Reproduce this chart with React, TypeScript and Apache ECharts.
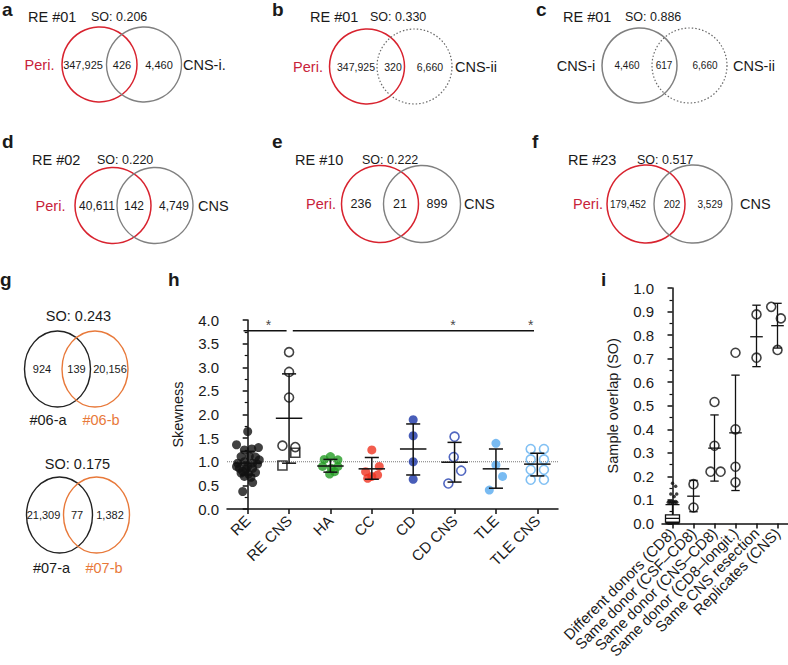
import React, { useEffect, useRef } from 'react';
import * as echarts from 'echarts';

const FONT = 'Liberation Sans, Arial, Helvetica, sans-serif';

// ---------- Venn panels a–f ----------
const vennIds = ['RE #01', 'RE #01', 'RE #01', 'RE #02', 'RE #10', 'RE #23'];
const vennSO = ['0.206', '0.330', '0.886', '0.220', '0.222', '0.517'];
const vennLeftNames = ['Peri.', 'Peri.', 'CNS-i', 'Peri.', 'Peri.', 'Peri.'];
const vennRightNames = ['CNS-i.', 'CNS-ii', 'CNS-ii', 'CNS', 'CNS', 'CNS'];
const vennLeftOnly = [347925, 347925, 4460, 40611, 236, 179452];
const vennShared = [426, 320, 617, 142, 21, 202];
const vennRightOnly = [4460, 6660, 6660, 4749, 899, 3529];

// ---------- Venn panel g ----------
const gSO = ['0.243', '0.175'];
const gLeftNames = ['#06-a', '#07-a'];
const gRightNames = ['#06-b', '#07-b'];
const gLeftOnly = [924, 21309];
const gShared = [139, 77];
const gRightOnly = [20156, 1382];

// ---------- Panel h: skewness ----------
const hCategories = ['RE', 'RE CNS', 'HA', 'CC', 'CD', 'CD CNS', 'TLE', 'TLE CNS'];
const hPositions = [0, 1, 2, 3, 4, 5, 6, 7];
// [horizontal jitter (category units), skewness]
const hRE = [[0, 1.64], [-0.27, 1.36], [-0.08, 1.25], [0.1, 1.27], [0.26, 1.3], [-0.16, 1.11], [0.04, 1.12], [0.19, 1.1], [-0.24, 0.97], [-0.08, 1.0], [0.12, 0.97], [0.24, 0.95], [-0.2, 0.86], [-0.04, 0.84], [0.12, 0.86], [-0.16, 0.76], [0.02, 0.74], [0.19, 0.77], [-0.08, 0.69], [0.08, 0.67], [0.12, 0.56], [-0.12, 0.37], [-0.27, 0.9], [0.28, 1.04], [0, 0.9], [-0.12, 0.8]];
const hRECNSCircles = [[0, 3.32], [0, 2.9], [0, 2.36], [-0.16, 1.34], [0.15, 1.31]];
const hRECNSSquares = [[-0.16, 0.92], [0.15, 1.19]];
const hHA = [[-0.15, 1.05], [0, 1.11], [0.18, 1.04], [-0.19, 0.9], [0.02, 0.86], [0.18, 0.9], [-0.02, 0.74], [0.1, 0.79]];
const hCC = [[0, 1.25], [0.18, 0.9], [-0.15, 0.79], [0, 0.69], [-0.1, 0.65], [0.14, 0.72]];
const hCD = [[0, 1.89], [0, 1.55], [0, 1.0], [0, 0.63]];
const hCDCNS = [[0, 1.53], [-0.02, 1.1], [0.16, 0.81], [-0.15, 0.54]];
const hTLE = [[0, 1.39], [0, 0.93], [0.16, 0.69], [-0.16, 0.4]];
const hTLECNS = [[-0.16, 1.27], [0.16, 1.27], [-0.16, 1.05], [0.16, 1.05], [-0.16, 0.83], [0.16, 0.83], [-0.16, 0.62], [0.16, 0.62]];
const hMean = [0.97, 1.92, 0.91, 0.85, 1.27, 0.99, 0.85, 0.95];
const hLow = [0.72, 0.97, 0.78, 0.63, 0.72, 0.57, 0.44, 0.7];
const hHigh = [1.22, 2.86, 1.05, 1.09, 1.8, 1.41, 1.27, 1.18];
const hRefLine = 1.0;
const hSigY = 3.77;
const hSigSpans = [[-0.1, 0.94], [1.09, 6.92]];
const hStarX = [0.5, 4.96, 6.84];
const hStarY = 3.9;

// ---------- Panel i: sample overlap ----------
const iCategories = ['Different donors (CD8)', 'Same donor (CSF–CD8)', 'Same donor (CNS–CD8)', 'Same donor (CD8–longit.)', 'Same CNS resection', 'Replicates (CNS)'];
const iBox = [0, 0.006, 0.022, 0.037, 0.08];
const iOutliers = [[0, 0.171], [0.15, 0.158], [-0.08, 0.125], [0.2, 0.125], [0.08, 0.115], [-0.15, 0.093], [-0.05, 0.093], [0.05, 0.093], [0.15, 0.093], [-0.1, 0.088], [0, 0.088], [0.1, 0.088], [0.2, 0.09], [-0.2, 0.09]];
const iCSF = [[0, 0.167], [0, 0.068]];
const iCNS = [[0, 0.516], [0, 0.33], [-0.19, 0.22], [0.29, 0.22]];
const iLongit = [[0, 0.725], [0, 0.4], [0, 0.241], [0, 0.175]];
const iResection = [[0, 0.888], [0, 0.704]];
const iReplicates = [[-0.3, 0.92], [0.16, 0.871], [0, 0.737]];
const iMean = [0.116, 0.32, 0.385, 0.793, 0.84];
const iLow = [0.05, 0.18, 0.14, 0.666, 0.745];
const iHigh = [0.183, 0.461, 0.63, 0.927, 0.935];

// ---------- styles / layout ----------
const RED = '#d8232f';
const PERI = '#c8233a';
const GRAY = '#808080';
const DOT = '#6a6a6a';
const ORANGE = '#e8793a';
const INK = '#1a1a1a';

const vennLayout = [
  { letter: 'a', lx: 2, by: 19, hy: 17, cy: 64.5, idX: 28, soX: 91, lcx: 99.5, rcx: 144, r: 37.5, leftX: 39.5, numX: [83, 122, 159], rightX: 183, numSize: 11, lStroke: RED, rDash: false },
  { letter: 'b', lx: 272, by: 19, hy: 17, cy: 66.5, idX: 310, soX: 370, lcx: 367, rcx: 414.5, r: 37.5, leftX: 308, numX: [356, 393, 430], rightX: 455, numSize: 10.5, lStroke: RED, rDash: true },
  { letter: 'c', lx: 536, by: 19, hy: 17, cy: 65.5, idX: 563, soX: 625, lcx: 639.5, rcx: 689.5, r: 37.5, leftX: 576, numX: [627, 664, 705], rightX: 733, numSize: 10, lStroke: GRAY, rDash: true },
  { letter: 'd', lx: 2, by: 151, hy: 160, cy: 205.5, idX: 32, soX: 97, lcx: 113, rcx: 155, r: 38, leftX: 50.5, numX: [97, 134, 174], rightX: 198, numSize: 12, lStroke: RED, rDash: false },
  { letter: 'e', lx: 272, by: 151, hy: 160, cy: 204, idX: 295, soX: 362, lcx: 380, rcx: 422, r: 38.5, leftX: 321, numX: [361, 400, 437], rightX: 464, numSize: 12.5, lStroke: RED, rDash: false },
  { letter: 'f', lx: 532, by: 151, hy: 160, cy: 204, idX: 568, soX: 637, lcx: 646, rcx: 693, r: 39, leftX: 588, numX: [628, 672, 710], rightX: 740, numSize: 10, lStroke: RED, rDash: false },
];

const gLayout = [
  { soX: 78.5, soY: 316, cy: 369, lcx: 57.5, rcx: 95, rx: 33, ry: 38, numX: [42, 76.5, 110], nameY: 420, nameX: [48, 101] },
  { soX: 77.5, soY: 464, cy: 515, lcx: 59.5, rcx: 96.5, rx: 33, ry: 38, numX: [43.5, 77, 110], nameY: 568, nameX: [51.5, 104] },
];

const fmt = (n: number) => n.toLocaleString('en-US');

function txt(x: number, y: number, text: string, size: number, o: any = {}) {
  const align = o.align || 'center';
  const va = o.va || 'middle';
  return {
    type: 'text',
    x,
    y,
    silent: true,
    style: {
      text,
      fontSize: size,
      fontFamily: FONT,
      fontWeight: o.weight || 'normal',
      fill: o.fill || INK,
      align,
      verticalAlign: va,
      textAlign: align,
      textVerticalAlign: va,
    },
  };
}

function buildGraphics() {
  const els: any[] = [];
  vennLayout.forEach((L, i) => {
    els.push(txt(L.lx, L.by, L.letter, 19, { weight: 'bold', align: 'left', va: 'bottom' }));
    els.push(txt(L.idX, L.hy, vennIds[i], 14.5, { align: 'left' }));
    els.push(txt(L.soX, L.hy, 'SO: ' + vennSO[i], 12.5, { align: 'left' }));
    els.push({ type: 'circle', silent: true, shape: { cx: L.lcx, cy: L.cy, r: L.r }, style: { fill: 'none', stroke: L.lStroke, lineWidth: 1.5 } });
    els.push({
      type: 'circle', silent: true, shape: { cx: L.rcx, cy: L.cy, r: L.r },
      style: L.rDash ? { fill: 'none', stroke: DOT, lineWidth: 1.2, lineDash: [1.5, 2] } : { fill: 'none', stroke: GRAY, lineWidth: 1.4 },
    });
    const isPeri = vennLeftNames[i] === 'Peri.';
    els.push(txt(L.leftX, L.cy, vennLeftNames[i], 14.5, { fill: isPeri ? PERI : INK }));
    els.push(txt(L.numX[0], L.cy, fmt(vennLeftOnly[i]), L.numSize));
    els.push(txt(L.numX[1], L.cy, fmt(vennShared[i]), L.numSize));
    els.push(txt(L.numX[2], L.cy, fmt(vennRightOnly[i]), L.numSize));
    els.push(txt(L.rightX, L.cy, vennRightNames[i], 14.5, { align: 'left' }));
  });
  gLayout.forEach((L, i) => {
    els.push(txt(L.soX, L.soY, 'SO: ' + gSO[i], 14.5));
    els.push({ type: 'ellipse', silent: true, shape: { cx: L.lcx, cy: L.cy, rx: L.rx, ry: L.ry }, style: { fill: 'none', stroke: '#222', lineWidth: 1.4 } });
    els.push({ type: 'ellipse', silent: true, shape: { cx: L.rcx, cy: L.cy, rx: L.rx, ry: L.ry }, style: { fill: 'none', stroke: ORANGE, lineWidth: 1.4 } });
    els.push(txt(L.numX[0], L.cy, fmt(gLeftOnly[i]), 11));
    els.push(txt(L.numX[1], L.cy, fmt(gShared[i]), 11));
    els.push(txt(L.numX[2], L.cy, fmt(gRightOnly[i]), 11));
    els.push(txt(L.nameX[0], L.nameY, gLeftNames[i], 14.5));
    els.push(txt(L.nameX[1], L.nameY, gRightNames[i], 14.5, { fill: ORANGE }));
  });
  els.push(txt(0, 289, 'g', 19, { weight: 'bold', align: 'left', va: 'bottom' }));
  els.push(txt(168, 289, 'h', 19, { weight: 'bold', align: 'left', va: 'bottom' }));
  els.push(txt(601, 289, 'i', 19, { weight: 'bold', align: 'left', va: 'bottom' }));
  return els;
}

function scatter(pts: number[][], g: number, color: string, open: boolean, xi: number, yi: number, symbol = 'circle', size = 9) {
  return {
    type: 'scatter',
    xAxisIndex: xi,
    yAxisIndex: yi,
    silent: true,
    z: 3,
    symbol,
    symbolSize: size,
    data: pts.map(([dx, y]) => [g + dx, y]),
    itemStyle: open ? { color: 'rgba(0,0,0,0)', borderColor: color, borderWidth: 1.6 } : { color, borderWidth: 0 },
  };
}

function errSeries(xi: number, yi: number, data: number[][], meanHalf: number, capHalf: number, lw: number) {
  return {
    type: 'custom',
    xAxisIndex: xi,
    yAxisIndex: yi,
    silent: true,
    z: 5,
    encode: { x: 0, y: 1 },
    data,
    renderItem: (_p: any, api: any) => {
      const x = api.value(0) as number;
      const m = api.value(1) as number;
      const lo = api.value(2) as number;
      const hi = api.value(3) as number;
      const P = (a: number, b: number) => api.coord([a, b]);
      const seg = (p1: number[], p2: number[]) => ({ type: 'line', shape: { x1: p1[0], y1: p1[1], x2: p2[0], y2: p2[1] }, style: { stroke: '#111', lineWidth: lw } });
      return {
        type: 'group',
        children: [
          seg(P(x - meanHalf, m), P(x + meanHalf, m)),
          seg(P(x, lo), P(x, hi)),
          seg(P(x - capHalf, lo), P(x + capHalf, lo)),
          seg(P(x - capHalf, hi), P(x + capHalf, hi)),
        ],
      };
    },
  };
}

export default function App() {
  const ref = useRef<HTMLDivElement>(null);
  useEffect(() => {
    if (!ref.current) return;
    const chart = echarts.init(ref.current, undefined, { renderer: 'svg' });
    const axisLine = { show: true, lineStyle: { color: '#111', width: 1.5 } };
    const hColors = ['#111', '#111', '#239b23', '#ef3320', '#1a34a6', '#2440b0', '#58aaef', '#62b0f0'];
    const option: any = {
      animation: false,
      textStyle: { fontFamily: FONT },
      grid: [
        { left: 227, top: 320, width: 331, height: 189, containLabel: false, outerBoundsMode: 'none' },
        { left: 662, top: 288, width: 126, height: 235.5, containLabel: false, outerBoundsMode: 'none' },
      ],
      xAxis: [
        {
          // panel h: value axis with ticks and rotated labels at the category positions
          type: 'value', gridIndex: 0, min: -0.5, max: 7.5, axisLine,
          axisTick: { show: true, customValues: hPositions, length: 5, lineStyle: { color: '#111', width: 1.5 } },
          axisLabel: {
            show: true, customValues: hPositions, rotate: 45, fontSize: 15, color: INK, margin: 9,
            formatter: (v: number) => hCategories[Math.round(v)] ?? '',
          },
          splitLine: { show: false },
        },
        {
          type: 'category', gridIndex: 1, data: iCategories, axisLine,
          axisTick: { show: true, alignWithLabel: true, length: 5, lineStyle: { color: '#111', width: 1.5 } },
          axisLabel: { interval: 0, rotate: 45, fontSize: 15, color: INK, margin: 7, hideOverlap: false },
          splitLine: { show: false },
        },
        { type: 'value', gridIndex: 1, min: -0.5, max: 5.5, show: false },
      ],
      yAxis: [
        {
          type: 'value', gridIndex: 0, min: 0, max: 4, interval: 0.5, axisLine,
          axisTick: { show: true, length: 5, lineStyle: { color: '#111', width: 1.5 } },
          minorTick: { show: true, splitNumber: 2, length: 3, lineStyle: { color: '#111', width: 1.2 } },
          splitLine: { show: false }, minorSplitLine: { show: false },
          axisLabel: { fontSize: 15, color: INK, margin: 8, formatter: (v: number) => v.toFixed(1) },
          name: 'Skewness', nameLocation: 'middle', nameGap: 42, nameRotate: 90,
          nameTextStyle: { fontSize: 14.5, color: INK },
        },
        {
          type: 'value', gridIndex: 1, min: 0, max: 1, interval: 0.1, axisLine,
          axisTick: { show: true, length: 5, lineStyle: { color: '#111', width: 1.5 } },
          minorTick: { show: true, splitNumber: 2, length: 3, lineStyle: { color: '#111', width: 1.2 } },
          splitLine: { show: false }, minorSplitLine: { show: false },
          axisLabel: { fontSize: 15, color: INK, margin: 8, formatter: (v: number) => v.toFixed(1) },
          name: 'Sample overlap (SO)', nameLocation: 'middle', nameGap: 42, nameRotate: 90,
          nameTextStyle: { fontSize: 14.5, color: INK },
        },
      ],
      graphic: buildGraphics(),
      series: [
        {
          type: 'line', xAxisIndex: 0, yAxisIndex: 0, silent: true, symbol: 'none', z: 1,
          data: [[-0.5, hRefLine], [7.5, hRefLine]],
          lineStyle: { type: 'dotted', color: '#777', width: 1 },
        },
        ...hSigSpans.map((s) => ({
          type: 'line', xAxisIndex: 0, yAxisIndex: 0, silent: true, symbol: 'none', z: 2,
          data: [[s[0], hSigY], [s[1], hSigY]],
          lineStyle: { color: '#111', width: 1.5 },
        })),
        {
          type: 'scatter', xAxisIndex: 0, yAxisIndex: 0, silent: true, symbolSize: 1,
          data: hStarX.map((x) => [x, hStarY]),
          itemStyle: { color: 'rgba(0,0,0,0)' },
          label: { show: true, position: 'inside', formatter: '*', fontSize: 14, color: '#111' },
        },
        scatter(hRE, 0, hColors[0], false, 0, 0),
        scatter(hRECNSCircles, 1, hColors[1], true, 0, 0),
        scatter(hRECNSSquares, 1, hColors[1], true, 0, 0, 'rect', 9),
        scatter(hHA, 2, hColors[2], false, 0, 0),
        scatter(hCC, 3, hColors[3], false, 0, 0),
        scatter(hCD, 4, hColors[4], false, 0, 0),
        scatter(hCDCNS, 5, hColors[5], true, 0, 0),
        scatter(hTLE, 6, hColors[6], false, 0, 0),
        scatter(hTLECNS, 7, hColors[7], true, 0, 0),
        errSeries(0, 0, hCategories.map((_, i) => [i, hMean[i], hLow[i], hHigh[i]]), 0.32, 0.17, 1.5),
        {
          type: 'boxplot', xAxisIndex: 1, yAxisIndex: 1, silent: true,
          data: [iBox], boxWidth: [14, 14],
          itemStyle: { color: '#fff', borderColor: '#111', borderWidth: 1.3 },
        },
        scatter(iOutliers, 0, '#111', false, 2, 1, 'circle', 3.5),
        scatter(iCSF, 1, '#111', true, 2, 1),
        scatter(iCNS, 2, '#111', true, 2, 1),
        scatter(iLongit, 3, '#111', true, 2, 1),
        scatter(iResection, 4, '#111', true, 2, 1),
        scatter(iReplicates, 5, '#111', true, 2, 1),
        errSeries(2, 1, iMean.map((m, k) => [k + 1, m, iLow[k], iHigh[k]]), 0.3, 0.2, 1.3),
      ],
    };
    chart.setOption(option);
    return () => chart.dispose();
  }, []);
  return <div ref={ref} style={{ position: 'absolute', left: 0, top: 0, width: 788, height: 665 }} />;
}
